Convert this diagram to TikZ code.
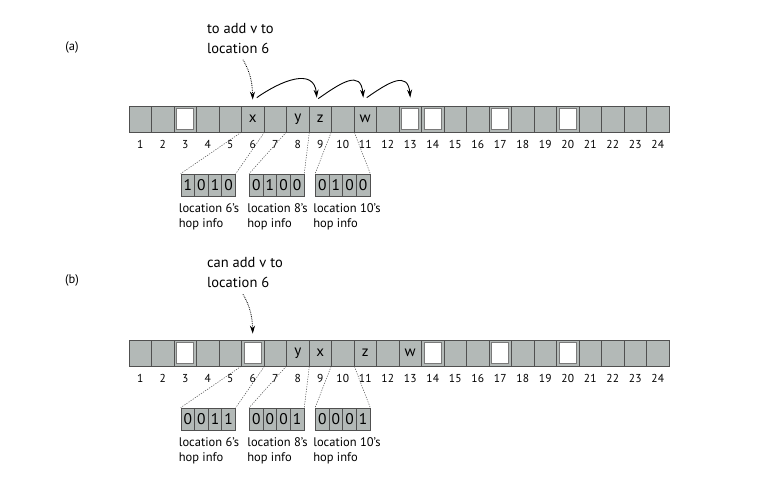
\documentclass[tikz,border=0pt]{standalone}
\usepackage{fontspec}
\setmainfont{PT Sans}
\usepackage{xcolor}
\usetikzlibrary{shapes, arrows.meta, positioning}
\definecolor{slotgray}{HTML}{B3B9B7}
\definecolor{slotline}{HTML}{505050}
\definecolor{holeline}{HTML}{7A7A7A}

\begin{document}
\begin{tikzpicture}[x=1pt, y=1pt,
    every node/.style={font=\fontsize{11.5}{14}\selectfont, inner sep=0pt},
    slot/.style={draw=slotline, line width=0.7pt, fill=slotgray, minimum width=22.5pt, minimum height=26pt},
    hole/.style={draw=holeline, line width=1.3pt, fill=white, minimum width=17pt, minimum height=20.5pt},
    item/.style={font=\fontsize{15}{16}\selectfont},
    bit/.style={draw=slotline, line width=0.7pt, fill=slotgray, minimum width=13.6pt, minimum height=22pt, font=\fontsize{15.5}{16}\selectfont},
    info/.style={align=left, anchor=north west, font=\fontsize{12.5}{15}\selectfont},
    note/.style={align=left, anchor=north west, font=\fontsize{14.5}{20}\selectfont},
    hop/.style={-{Stealth[length=8pt, width=5pt]}, line width=0.9pt},
    pointer/.style={densely dotted, line width=0.8pt, -{Stealth[length=8pt, width=5pt]}},
    hopline/.style={dash pattern=on 1.2pt off 1.3pt, line width=0.5pt, black!70}]
    \useasboundingbox (0,0) rectangle (757,486);

    % (a) before the move
    \node (taga) at (72,439) {\fontsize{12.5}{14}\selectfont(a)};
    \node[note] (notea) at (207,463) {to add v to\\location 6};
    \foreach \i in {1,...,24} {
        \node[slot] (a\i) at ({117.75+22.5*\i}, 367) {};
        \node (na\i) at ([yshift=-12pt]a\i.south) {\i};
    }
    \foreach \i in {3,13,14,17,20}
        \node[hole] (ha\i) at (a\i) {};
    \foreach \i/\t in {6/x,8/y,9/z,11/w}
        \node[item] (la\i) at (a\i) {\t};
    % hop info of locations 6, 8, 10
    \foreach \b/\x/\bits in {1/181/{1,0,1,0}, 2/249.5/{0,1,0,0}, 3/315.5/{0,1,0,0}}
        \foreach \d [count=\k] in \bits
            \node[bit] (pa\b-\k) at ({\x+13.6*(\k-0.5)}, 301) {\d};
    \foreach \b/\c in {1/6, 2/8, 3/10} {
        \draw[hopline] (a\c.south west) -- (pa\b-1.north west);
        \draw[hopline] (a\c.south east) -- (pa\b-4.north east);
        \node[info] (ia\b) at ([xshift=-2pt,yshift=-7pt]pa\b-1.south west) {location \c's\\hop info};
    }
    % arrows
    \draw[pointer] ([xshift=36pt,yshift=-6pt]notea.south west) to[out=-60, in=92] ([yshift=6pt]a6.north);
    \draw[hop] ([xshift=4pt,yshift=8pt]a6.north) to[out=35, in=95, looseness=1.3] ([xshift=-3.5pt,yshift=8pt]a9.north);
    \draw[hop] ([xshift=-2pt,yshift=7pt]a9.north) to[out=35, in=95, looseness=1.6] ([xshift=-2pt,yshift=8pt]a11.north);
    \draw[hop] ([xshift=1.5pt,yshift=8pt]a11.north) to[out=35, in=95, looseness=1.6] ([yshift=8pt]a13.north);

    % (b) after the move
    \node (tagb) at (72,206) {\fontsize{12.5}{14}\selectfont(b)};
    \node[note] (noteb) at (207,228.5) {can add v to\\location 6};
    \foreach \i in {1,...,24} {
        \node[slot] (b\i) at ({117.75+22.5*\i}, 133) {};
        \node (nb\i) at ([yshift=-12pt]b\i.south) {\i};
    }
    \foreach \i in {3,6,14,17,20}
        \node[hole] (hb\i) at (b\i) {};
    \foreach \i/\t in {8/y,9/x,11/z,13/w}
        \node[item] (lb\i) at (b\i) {\t};
    \foreach \b/\x/\bits in {1/181/{0,0,1,1}, 2/249.5/{0,0,0,1}, 3/315.5/{0,0,0,1}}
        \foreach \d [count=\k] in \bits
            \node[bit] (pb\b-\k) at ({\x+13.6*(\k-0.5)}, 67) {\d};
    \foreach \b/\c in {1/6, 2/8, 3/10} {
        \draw[hopline] (b\c.south west) -- (pb\b-1.north west);
        \draw[hopline] (b\c.south east) -- (pb\b-4.north east);
        \node[info] (ib\b) at ([xshift=-2pt,yshift=-7pt]pb\b-1.south west) {location \c's\\hop info};
    }
    \draw[pointer] ([xshift=36pt,yshift=-6pt]noteb.south west) to[out=-60, in=92] ([yshift=6pt]b6.north);
\end{tikzpicture}
\end{document}
